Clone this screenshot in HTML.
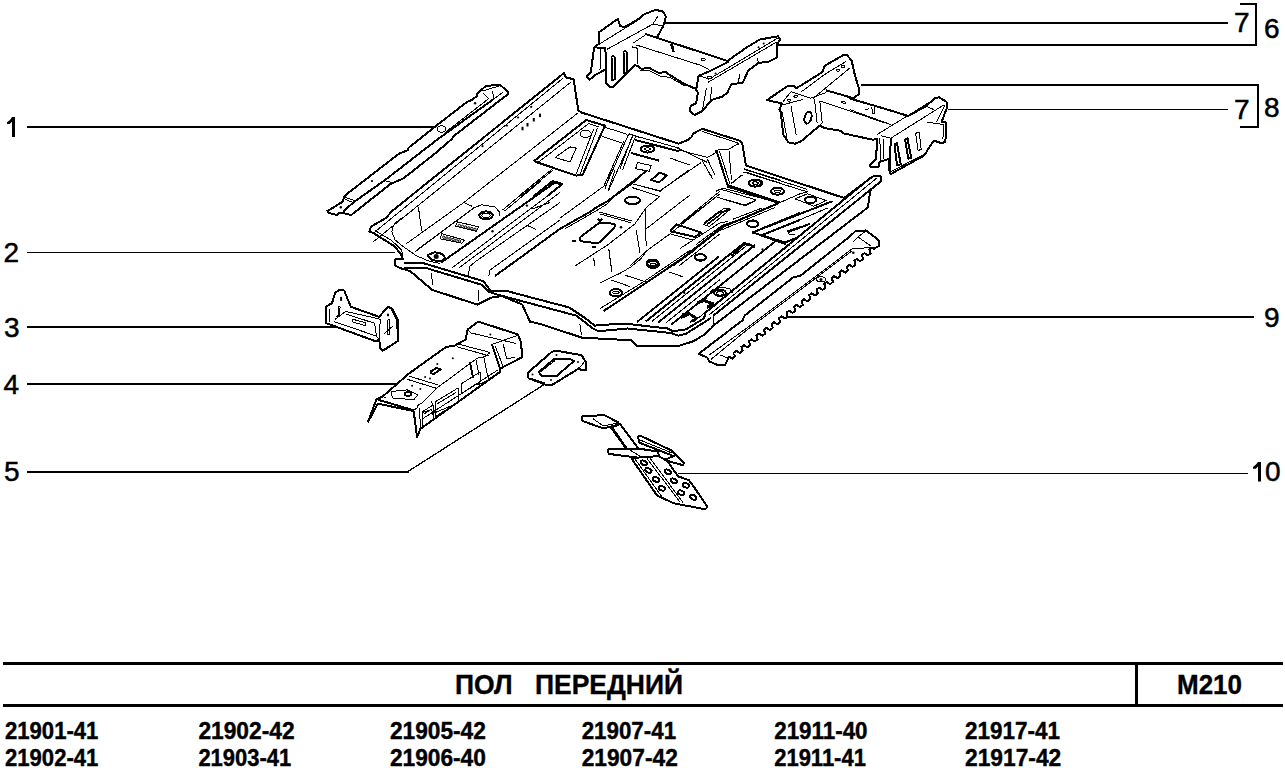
<!DOCTYPE html>
<html><head><meta charset="utf-8">
<style>
html,body{margin:0;padding:0;background:#fff;}
body{width:1285px;height:768px;overflow:hidden;}
svg{display:block;}
.lb{font-family:"Liberation Sans",sans-serif;font-size:28px;fill:#000;stroke:#000;stroke-width:0.5;}
.pn{font-family:"Liberation Sans",sans-serif;font-size:23.5px;font-weight:bold;fill:#000;stroke:#000;stroke-width:0.4;}
.tt{font-family:"Liberation Sans",sans-serif;font-size:28.5px;font-weight:bold;fill:#000;stroke:#000;stroke-width:0.4;}
.ln{stroke:#000;fill:none;}
.p{stroke:#000;stroke-width:2;fill:#fff;stroke-linejoin:round;}
.q{stroke:#000;fill:none;}
#parts path,#parts ellipse,#parts line,#parts polyline{shape-rendering:crispEdges;}
#parts g{stroke:#000;}
#parts path{stroke-linejoin:round;}
</style></head><body>
<svg width="1285" height="768" viewBox="0 0 1285 768">
<rect width="1285" height="768" fill="#fff"/>
<!-- leader lines -->
<g class="ln" shape-rendering="crispEdges">
<line x1="27" y1="127" x2="440" y2="127" stroke-width="2"/>
<line x1="27" y1="252.5" x2="395" y2="252.5" stroke-width="1"/>
<line x1="27" y1="327" x2="336" y2="327" stroke-width="2"/>
<line x1="27" y1="384" x2="400" y2="384" stroke-width="2"/>
<line x1="27" y1="472" x2="409" y2="472" stroke-width="2"/><line x1="408" y1="471.5" x2="545" y2="384" stroke-width="1.3"/>
<line x1="665" y1="23" x2="1228" y2="23" stroke-width="2"/>
<polyline points="778,45 1256,45 1256,3.5 1240,3.5" stroke-width="2"/>
<polyline points="861,85 1258,85 1258,127 1240,127" stroke-width="2"/>
<line x1="948" y1="109.5" x2="1228" y2="109.5" stroke-width="1"/>
<line x1="780" y1="317" x2="1254" y2="317" stroke-width="2"/>
<line x1="678" y1="473.5" x2="1248" y2="473.5" stroke-width="1"/>
</g>
<!-- PARTS -->
<g id="parts">
<g stroke="#000"><path d="M327.3,210.8 L330.4,209.3 L342.9,201.5 L344,196.8 L346,194.7 L399.2,153.5 L407.5,150.4 L408.5,147.8 L432.8,128.5 L437.6,124.7 L467,101.9 L471.8,100 L476.6,96.2 L476.6,94.3 L486.1,85.7 L500.3,85.2 L508.4,91.9 L508.4,93.8 L453.7,136.1 L451.8,139 L435.7,153 L403.3,178.5 L390.8,183.75 L351.25,215 L343,213 L338.75,213.4 L336.7,215 L328.3,212.9 Z" stroke-width="2" fill="#fff"/>
<path d="M493.7,99 L436.7,140 L385.6,179.6 L353.3,202.5 L342.9,211.9" stroke-width="2" fill="none"/>
<path d="M488.9,98.5 L446.1,131.8" stroke-width="1" fill="none"/>
<path d="M384.6,180.6 L392.9,182.7" stroke-width="1" fill="none"/>
<path d="M343,196.8 L354.4,200.4" stroke-width="1" fill="none"/>
<path d="M345,199.4 L353.3,202.5" stroke-width="1" fill="none"/>
<path d="M483.2,93.3 L488.9,99" stroke-width="1" fill="none"/>
<path d="M492.7,91.4 L493.7,99" stroke-width="1" fill="none"/>
<path d="M482.3,91 L499,86" stroke-width="1" fill="none"/>
<path d="M493.7,99 L502.7,92.4" stroke-width="1" fill="none"/>
<ellipse cx="441.4" cy="129" rx="4.2" ry="3.2" stroke-width="1" fill="none" transform="rotate(0 441.4 129)"/>
<circle cx="475.1" cy="103.3" r="1.2" fill="#000" stroke="none"/>
<circle cx="372" cy="181.1" r="1.1" fill="#000" stroke="none"/>
<circle cx="340.8" cy="207.2" r="1.2" fill="#000" stroke="none"/></g>
<g id="floor">
<!-- outer silhouette -->
<path class="p" fill="#fff" stroke-width="2" d="M370.9,226.6 L385.8,218.1 L392.3,210.9 L396.2,207.7 L563.9,73.1 L565.9,77.4 L573.7,79.3 L578.3,110.6 L581.5,112.5 L678.5,143.7 L687.6,140 L691.3,137.3 L693.1,133.7 L702.2,128.8 L740.5,141 L742.3,143.7 L746,165.6 L844.2,198 L872.8,176.5 L879.3,175.9 L881.3,177.2 L880.6,181.7 L870.9,189.5 L870.2,191.5 L867.8,207.5 L713.5,325.5 L711.4,328.1 L704.3,334.6 L693.8,341.1 L679.5,345.7 L660,346.3 L653,345.8 L636.6,345.8 L631.1,340.3 L581.9,337.6 L540,323.9 L530,321.7 L522.3,304.6 L502,296 L491.2,297.6 L477.2,304.6 L432,289.8 L410.2,271.1 L400.6,268.2 L394.7,265.3 L395.5,259.4 L403.1,259.4 L400.6,253.5 L393.8,245.8 L373.5,233.1 L369.3,231.5 Z"/>
<!-- left wall lines -->
<path class="q" d="M373.9,232.7 L563.3,78 M373,242 L571.1,81.9 M492.5,180 L577.6,113.2 M418.4,207 L421.6,230.5"/>
<!-- front flange -->
<path class="q" stroke-width="2" d="M404,263.3 L422.7,263 L483.4,281.2 L491.2,291.4 L505.2,290.6 L569.2,307.5 L585.6,318.4 L594.7,325.7 L600.2,324.8 L627.5,323.9 L667.6,328.5 L673.1,331.2 L685.8,329.4 L704,318.4 L706,311"/>
<path class="q" stroke-width="2" d="M404,268 L426,268 L481.8,284.8 L488.6,291.5 L495.4,294.1 L576.5,315.7 L592.9,328.5 L598.3,331.2 L627.5,328.5 L671.2,333 L678.5,335.7 L685.8,333.9 L711,318"/>
<!-- right sill -->
<path class="q" stroke-width="2" d="M872.5,176.3 L705,313 M880.6,181.7 L713,316"/>
<path class="q" d="M877.5,177.5 L709,315"/>
<path class="q" d="M401.6,217.8 L396,222.5 L393.2,225.6 L391.9,232 L395.1,239.9 L403,246.4 L416,255.5 L427.7,260.7 L440,263.5"/>
<path class="q" d="M375,230.5 L392,240.8 L401,249.5 L403,255"/>
<path class="q" d="M431.2,272.7 L432.8,285.1 M478.7,289.8 L478.7,300.7 M579.9,324 L581.4,335 M713.9,317.2 L713.4,324.7"/>
</g>

<g class="ci" stroke="#000"><circle cx="482.5" cy="146.2" r="1.1" fill="#000" stroke="none"/>
<circle cx="506.9" cy="125.6" r="1.1" fill="#000" stroke="none"/>
<circle cx="518.1" cy="117.5" r="1.1" fill="#000" stroke="none"/>
<circle cx="531.2" cy="106.9" r="1.1" fill="#000" stroke="none"/>
<rect x="521.5" y="126.80000000000001" width="2" height="3.5" fill="#000" stroke="none"/>
<rect x="526.5" y="123.0" width="2" height="3.5" fill="#000" stroke="none"/>
<rect x="532.8" y="118.0" width="2" height="3.5" fill="#000" stroke="none"/>
<rect x="539.0" y="113.6" width="2" height="3.5" fill="#000" stroke="none"/>
<path d="M533.8,161.2 L586.2,120.0 L605.0,125.6 L582.5,175.0 L576.2,175.6 L533.8,161.2" stroke-width="2" fill="none"/>
<path d="M538.8,161.9 L588.8,123.5 L598.8,126.9" stroke-width="1" fill="none"/>
<path d="M593.8,128.8 L576.2,173.8" stroke-width="1" fill="none"/>
<path d="M597.5,128.1 L580.0,174.4" stroke-width="1" fill="none"/>
<ellipse cx="585.6" cy="133.8" rx="5.6" ry="3.5" stroke-width="1" fill="none" transform="rotate(0 585.6 133.8)"/>
<path d="M555.0,157.5 L570.0,146.9 L576.2,148.1 L570.0,161.9 Z" stroke-width="1" fill="none"/>
<path d="M603.8,126.9 L627.5,134.4" stroke-width="1" fill="none"/>
<path d="M601.9,136.2 L622.5,143.1" stroke-width="1" fill="none"/>
<path d="M628.8,133.8 L605.0,187.5" stroke-width="1" fill="none"/>
<path d="M633.1,135.6 L608.8,190.0" stroke-width="1" fill="none"/>
<path d="M623.8,141.2 L603.8,186.2" stroke-width="1" fill="none"/>
<path d="M628.8,133.8 L640.0,137.5" stroke-width="1" fill="none"/>
<path d="M518.8,196.0 L552.5,168.8" stroke-width="1" fill="none"/>
<path d="M521.2,196.0 L553.1,170.0" stroke-width="1" fill="none"/>
<path d="M533.8,196.0 L552.5,181.2 L562.5,183.8 L547.5,196.0" stroke-width="2" fill="none"/>
<path d="M560.0,228.8 L591.2,211.2 L596.2,207.5 L607.5,201.2 L635.0,180.0 L647.5,170.0" stroke-width="2" fill="none"/>
<path d="M560.0,218.1 L603.8,186.2" stroke-width="1" fill="none"/>
<path d="M565.0,228.8 L597.5,210.0 L607.5,203.8 L615.0,196.2 L633.8,182.5 L646.2,171.2" stroke-width="1" fill="none"/>
<path d="M605.0,188.8 L611.2,170.0" stroke-width="1" fill="none"/>
<path d="M608.1,190.6 L615.0,170.0" stroke-width="1" fill="none"/>
<path d="M603,222.8 L612,223.6 Q616.5,224 614,228 L601,241 Q598.5,243.5 595,243 L583,241.5 Q578,241 580.5,237 L596.5,224.8 Q599,222.6 603,222.8 Z" fill="none" stroke-width="2"/>
<circle cx="621" cy="227.3" r="1.3" fill="#000" stroke="none"/>
<path d="M572,240.5 L576,241.2 M592,247 L596,246.5 M598,218.5 L600,221.5 L602,218.5" stroke-width="2" fill="none"/>
<path d="M598.8,211.9 L632.5,221.2" stroke-width="1" fill="none"/>
<path d="M600.0,214.0 L631.2,222.8" stroke-width="1" fill="none"/>
<path d="M575.0,266.0 L607.5,245.0 L635.0,223.8 L646.2,207.5 L660.0,196.2" stroke-width="1" fill="none"/>
<path d="M636.2,230.0 L640.0,252.5" stroke-width="1" fill="none"/>
<path d="M645.0,208.8 L646.2,246.2" stroke-width="1" fill="none"/>
<path d="M608.8,248.8 L611.2,266.0" stroke-width="1" fill="none"/>
<path d="M593.8,257.5 L594.4,266.0" stroke-width="1" fill="none"/>
<path d="M646.2,228.8 L690.0,195.0" stroke-width="1" fill="none"/>
<path d="M660.0,191.2 L688.8,170.0" stroke-width="1" fill="none"/>
<path d="M630.0,266.0 L646.2,251.2 L670.0,233.8 L720.0,193.8" stroke-width="1" fill="none"/>
<path d="M670.0,230.6 L676.9,224.4 L701.2,232.5 L695.0,236.9 L670.0,231.2" stroke-width="2" fill="none"/>
<path d="M670.0,233.8 L692.5,240.0" stroke-width="1" fill="none"/>
<ellipse cx="700.2" cy="257.2" rx="5.5" ry="3" stroke-width="2" fill="none" transform="rotate(0 700.2 257.2)"/>
<ellipse cx="652.5" cy="263.1" rx="6" ry="3.5" stroke-width="2" fill="none" transform="rotate(0 652.5 263.1)"/>
<path d="M651.2,180.0 L660.0,172.5 L666.9,175.6 L658.8,182.5 Z" stroke-width="2" fill="none"/>
<path d="M632.5,183.8 L660.0,191.2" stroke-width="1" fill="none"/>
<path d="M631.9,187.5 L658.8,196.2" stroke-width="1" fill="none"/>
<ellipse cx="632.5" cy="200.4" rx="7.5" ry="3.8" stroke-width="2" fill="none" transform="rotate(0 632.5 200.4)"/>
<path d="M720.0,191.2 L680.0,223.8" stroke-width="1" fill="none"/>
<path d="M703.8,223.8 L720.0,211.2" stroke-width="2" fill="none"/>
<path d="M706.2,225.6 L720.0,215.0" stroke-width="1" fill="none"/>
<path d="M672.5,266.0 L720.0,228.8" stroke-width="2" fill="none"/>
<path d="M678.8,266.0 L720.0,233.8" stroke-width="1" fill="none"/>
<path d="M707.5,170.0 L712.5,177.5" stroke-width="1" fill="none"/>
<path d="M702.5,131.5 L737.5,142.8 L739.0,145.2" stroke-width="1" fill="none"/>
<path d="M678.8,150.0 L707.5,157.5 L715.0,153.1 L716.2,150.2 L728.8,149.0 L738.1,144.0" stroke-width="1" fill="none"/>
<path d="M677.5,148.1 L701.2,159.4 L707.5,162.5" stroke-width="1" fill="none"/>
<path d="M701.2,158.8 L712.5,178.8" stroke-width="1" fill="none"/>
<path d="M707.5,159.4 L715.0,175.0" stroke-width="1" fill="none"/>
<path d="M716.2,150.0 L727.5,185.0" stroke-width="2" fill="none"/>
<path d="M719.4,151.2 L730.0,183.8" stroke-width="1" fill="none"/>
<path d="M729.0,151.2 L731.5,180.0" stroke-width="1" fill="none"/>
<path d="M701.2,162.5 L661.2,190.0" stroke-width="1" fill="none"/>
<path d="M670.0,158.1 L690.0,165.0" stroke-width="1" fill="none"/>
<path d="M743.8,168.8 L780.0,180.0" stroke-width="1" fill="none"/>
<path d="M745.0,171.9 L780.0,183.1" stroke-width="1" fill="none"/>
<path d="M727.5,185.0 L780.0,202.5" stroke-width="2" fill="none"/>
<path d="M731.2,183.1 L742.5,175.0" stroke-width="1" fill="none"/>
<ellipse cx="755.0" cy="183.1" rx="6.5" ry="3.5" stroke-width="2" fill="none" transform="rotate(0 755.0 183.1)"/>
<ellipse cx="755.0" cy="183.1" rx="3" ry="1.2" stroke-width="1" fill="none" transform="rotate(0 755.0 183.1)"/>
<ellipse cx="647.5" cy="149.0" rx="6.5" ry="3.5" stroke-width="2" fill="none" transform="rotate(0 647.5 149.0)"/>
<ellipse cx="647.5" cy="149.0" rx="3" ry="1.2" stroke-width="1" fill="none" transform="rotate(0 647.5 149.0)"/>
<path d="M716.2,191.2 L722.5,188.1 L758.8,197.5" stroke-width="1" fill="none"/>
<path d="M630.0,134.4 L678.8,148.1" stroke-width="1" fill="none"/>
<path d="M635.0,140.0 L678.8,151.2" stroke-width="2" fill="none"/>
<path d="M631.2,153.1 L658.8,160.6" stroke-width="2" fill="none"/>
<path d="M620.0,168.8 L632.5,135.6" stroke-width="1" fill="none"/>
<path d="M622.5,170.0 L635.6,136.2" stroke-width="1" fill="none"/>
<path d="M637.5,162.5 L651.2,165.6 L649.4,171.2 L635.6,168.8 L637.5,162.5" stroke-width="1" fill="none"/>
<path d="M632.5,183.8 L661.2,191.2" stroke-width="1" fill="none"/>
<path d="M743.1,171.9 L807.5,191.9" stroke-width="1" fill="none"/>
<path d="M744.4,169.4 L807.5,189.4" stroke-width="1" fill="none"/>
<path d="M727.5,186.5 L778.8,203.1" stroke-width="2" fill="none"/>
<path d="M731.2,183.8 L741.9,175.0" stroke-width="1" fill="none"/>
<path d="M778.8,203.1 L800.0,193.8 L807.5,191.9" stroke-width="1" fill="none"/>
<ellipse cx="755.6" cy="183.1" rx="6.5" ry="3.5" stroke-width="2" fill="none" transform="rotate(0 755.6 183.1)"/>
<ellipse cx="755.6" cy="183.1" rx="3" ry="1.2" stroke-width="1" fill="none" transform="rotate(0 755.6 183.1)"/>
<ellipse cx="777.5" cy="191.2" rx="6.5" ry="3.5" stroke-width="2" fill="none" transform="rotate(0 777.5 191.2)"/>
<ellipse cx="777.5" cy="191.2" rx="3" ry="1.2" stroke-width="1" fill="none" transform="rotate(0 777.5 191.2)"/>
<ellipse cx="810.6" cy="199.8" rx="5.5" ry="3.2" stroke-width="2" fill="none" transform="rotate(0 810.6 199.8)"/>
<path d="M795.0,198.8 L807.5,193.8 L826.2,200.6 L813.8,206.2 L795.0,198.8" stroke-width="1" fill="none"/>
<path d="M832.5,201.2 L752.5,232.5" stroke-width="2" fill="none"/>
<path d="M827.5,208.1 L763.8,235.0" stroke-width="1" fill="none"/>
<path d="M752.5,232.5 L785.0,242.5 L797.5,237.5" stroke-width="2" fill="none"/>
<path d="M787.5,232.2 L810.0,223.8" stroke-width="2" fill="none"/>
<path d="M788.1,233.8 L795.0,235.0" stroke-width="1" fill="none"/>
<path d="M720.0,189.0 L756.2,200.0" stroke-width="1" fill="none"/>
<path d="M720.0,198.1 L745.0,205.0 L756.2,200.0" stroke-width="1" fill="none"/>
<path d="M720.0,228.1 L778.8,203.1" stroke-width="2" fill="none"/>
<path d="M720.0,230.6 L775.0,207.5" stroke-width="1" fill="none"/>
<path d="M720.0,213.1 L730.0,209.0" stroke-width="2" fill="none"/>
<ellipse cx="752.5" cy="223.8" rx="5.5" ry="3.2" stroke-width="2" fill="none" transform="rotate(0 752.5 223.8)"/>
<path d="M731.2,256.0 L745.0,243.8 L753.8,246.2 L741.2,256.0" stroke-width="2" fill="none"/>
<path d="M757.5,256.0 L773.8,242.5" stroke-width="1" fill="none"/>
<path d="M795.0,240.0 L842.5,201.2" stroke-width="1" fill="none"/>
<path d="M608.9,250.0 L611.7,271.6" stroke-width="1" fill="none"/>
<path d="M600.0,282.8 L620.6,273.0 L630.9,266.9 L640.3,259.4 L646.9,250.9" stroke-width="1" fill="none"/>
<ellipse cx="653.0" cy="264.5" rx="6" ry="3.4" stroke-width="2" fill="none" transform="rotate(0 653.0 264.5)"/>
<ellipse cx="653.0" cy="264.2" rx="3" ry="1.2" stroke-width="1" fill="none" transform="rotate(0 653.0 264.2)"/>
<ellipse cx="615.9" cy="292.7" rx="6.3" ry="3.6" stroke-width="2" fill="none" transform="rotate(0 615.9 292.7)"/>
<ellipse cx="615.9" cy="292.4" rx="3.2" ry="1.3" stroke-width="1" fill="none" transform="rotate(0 615.9 292.4)"/>
<ellipse cx="700.3" cy="257.5" rx="5.6" ry="3.2" stroke-width="2" fill="none" transform="rotate(0 700.3 257.5)"/>
<path d="M625.3,275.3 L645.9,281.9" stroke-width="1" fill="none"/>
<path d="M611.2,280.0 L630.0,286.6" stroke-width="1" fill="none"/>
<path d="M669.4,272.0 L682.5,276.7" stroke-width="1" fill="none"/>
<path d="M603.7,310.9 L646.9,282.3 L694.7,250.0" stroke-width="2" fill="none"/>
<path d="M600.0,308.6 L645.0,280.9 L690.5,250.0" stroke-width="1" fill="none"/>
<circle cx="684.4" cy="293.1" r="1.1" fill="#000" stroke="none"/>
<path d="M697.5,302.5 L703.1,299.7 L713.4,303.4 L707.8,306.2" stroke-width="2" fill="none"/>
<path d="M681.6,314.7 L689.1,312.8 L693.7,317.5" stroke-width="2" fill="none"/>
<path d="M680.9,223.7 L716.6,196.5" stroke-width="1" fill="none"/>
<path d="M703.4,224.6 L724.1,208.2 L730.6,209.1 L709.5,226.5 L703.4,224.6" stroke-width="1" fill="none"/>
<path d="M707.2,224.1 L725.9,210.1" stroke-width="1" fill="none"/>
<path d="M716.6,196.9 L741.9,204.9 L745.6,205.4 L755.0,200.7" stroke-width="1" fill="none"/>
<path d="M695.9,244.7 L721.2,226.0" stroke-width="1" fill="none"/>
<path d="M721.2,226.0 L736.2,221.3 L777.5,203.5" stroke-width="2" fill="none"/>
<path d="M680.0,248.5 L719.4,223.2 L727.8,221.3" stroke-width="1" fill="none"/>
<path d="M732.5,219.4 L761.6,208.2" stroke-width="1" fill="none"/>
<path d="M680.0,260.7 L723.1,226.9" stroke-width="2" fill="none"/>
<ellipse cx="752.7" cy="223.7" rx="5.6" ry="3.3" stroke-width="2" fill="none" transform="rotate(0 752.7 223.7)"/>
<path d="M752.2,232.1 L800.0,212.4" stroke-width="1" fill="none"/>
<path d="M752.2,232.1 L785.9,244.3" stroke-width="2" fill="none"/>
<path d="M762.5,234.9 L800.0,219.9" stroke-width="2" fill="none"/>
<path d="M786.9,231.6 L800.0,227.4" stroke-width="2" fill="none"/>
<ellipse cx="700.6" cy="257.4" rx="5.6" ry="3.1" stroke-width="2" fill="none" transform="rotate(0 700.6 257.4)"/>
<circle cx="762.5" cy="249.4" r="1.1" fill="#000" stroke="none"/>
<path d="M637,322.0 L719,256.4" stroke-width="2" fill="none"/>
<path d="M646,321.4 L744,243.0" stroke-width="2" fill="none"/>
<path d="M652,321.3 L748,244.5" stroke-width="1" fill="none"/>
<path d="M658,322.6 L755,245.0" stroke-width="2" fill="none"/>
<path d="M744,242.9 L749.4,244.3 L755,247.4" stroke-width="2" fill="none"/>
<path d="M666,322.7 L720,279.5" stroke-width="1" fill="none"/>
<path d="M671,324.8 L775,241.6" stroke-width="2" fill="none"/>
<path d="M693,322.2 L790,244.6" stroke-width="1" fill="none"/>
<ellipse cx="720" cy="292.8" rx="5.8" ry="3.3" stroke-width="2" fill="none" transform="rotate(0 720 292.8)"/>
<ellipse cx="720" cy="293.3" rx="3.5" ry="1.8" stroke-width="1" fill="none" transform="rotate(0 720 293.3)"/>
<path d="M705,300 L712,290 L722,287 L730,289 L733,293" stroke-width="1" fill="none"/>
<path d="M696,304 L704,301 L713,304 L707,308" stroke-width="2" fill="none"/>
<path d="M681,318 L690,314 L697,318 L690,322" stroke-width="2" fill="none"/>
<path d="M406.2,243.8 L463.8,202.5 L492.5,180.0" stroke-width="1" fill="none"/>
<path d="M463.8,202.5 L471.9,206.2" stroke-width="1" fill="none"/>
<path d="M415.0,251.9 L473.1,208.5 L481.2,204.8 L495.0,206.9 L500.0,212.8 L499.4,215.6" stroke-width="1" fill="none"/>
<path d="M416.9,250.0 L473.8,207.8" stroke-width="1" fill="none"/>
<path d="M555.0,182.5 L441.2,262.5" stroke-width="2" fill="none"/>
<ellipse cx="486.0" cy="215.4" rx="6.8" ry="4" stroke-width="2" fill="none" transform="rotate(0 486.0 215.4)"/>
<ellipse cx="486.0" cy="215.4" rx="4.2" ry="2.2" stroke-width="1" fill="none" transform="rotate(0 486.0 215.4)"/>
<path d="M457.5,221.9 L478.8,226.9 L476.2,231.2 L455.6,226.2 Z" stroke-width="1" fill="none"/>
<path d="M441.9,233.8 L464.4,240.0 L461.9,243.1 L440.0,238.8 Z" stroke-width="1" fill="none"/>
<circle cx="459.4" cy="225.6" r="1.2" fill="none" stroke-width="1"/>
<circle cx="443.8" cy="237.2" r="1.2" fill="none" stroke-width="1"/>
<circle cx="462.5" cy="226.4" r="1.2" fill="none" stroke-width="1"/>
<circle cx="446.9" cy="238.0" r="1.2" fill="none" stroke-width="1"/>
<circle cx="465.6" cy="227.1" r="1.2" fill="none" stroke-width="1"/>
<circle cx="450.0" cy="238.8" r="1.2" fill="none" stroke-width="1"/>
<circle cx="468.8" cy="227.9" r="1.2" fill="none" stroke-width="1"/>
<circle cx="453.1" cy="239.5" r="1.2" fill="none" stroke-width="1"/>
<circle cx="471.9" cy="228.6" r="1.2" fill="none" stroke-width="1"/>
<circle cx="456.2" cy="240.2" r="1.2" fill="none" stroke-width="1"/>
<circle cx="475.0" cy="229.4" r="1.2" fill="none" stroke-width="1"/>
<circle cx="459.4" cy="241.0" r="1.2" fill="none" stroke-width="1"/>
<path d="M427.5,255.0 L435.0,252.2 L442.5,254.0 L445.2,257.8 L441.2,261.5 L431.9,260.0 L427.5,255.0" stroke-width="2" fill="none"/>
<circle cx="436.2" cy="256.5" r="2.5" fill="#000" stroke="none"/>
<path d="M502.5,210.0 L538.8,180.0" stroke-width="1" fill="none"/>
<path d="M504.4,211.2 L540.6,181.2" stroke-width="1" fill="none"/>
<path d="M550.0,182.5 L560.0,183.8" stroke-width="2" fill="none"/>
<path d="M558.8,187.5 L452.5,267.5" stroke-width="1" fill="none"/>
<path d="M560.0,192.5 L458.8,268.1" stroke-width="1" fill="none"/>
<path d="M550.0,202.5 L532.5,208.8" stroke-width="1" fill="none"/>
<path d="M560.0,220.0 L490.0,270.0 L488.8,276.0" stroke-width="1" fill="none"/>
<path d="M560.0,228.8 L495.0,276.0" stroke-width="2" fill="none"/>
<path d="M526.2,225.0 L536.2,229.4" stroke-width="1" fill="none"/>
<path d="M468.1,276.0 L470.0,266.2 L475.0,261.9 L560.0,202.5" stroke-width="1" fill="none"/>
<circle cx="492.5" cy="231.2" r="1.2" fill="#000" stroke="none"/>
<circle cx="526.9" cy="205.6" r="1.2" fill="#000" stroke="none"/></g>
<g stroke="#000"><path d="M594.2,47.3 L590.7,72.7 L586.8,76.6 L589.8,79.6 L595.6,74.7 L605.5,69.5 L606.4,83.5 L609.3,86.4 L612.2,87.4 L634.7,64.9 L638,66.2 L641.6,68.9 L648.8,67.7 L659.5,73.4 L664.9,71.6 L670.2,75.2 L684.6,84.1 L695.3,88.6 L698,92.9 L696,103.3 L690.8,105.9 L689.5,111.1 L694.7,115 L702.5,111.1 L707.7,104.6 L713,99.4 L722.1,96.8 L727.3,92.9 L731.2,84.4 L742.9,82.5 L748.1,70.8 L758.5,63 L768.9,61.65 L776.7,57.7 L776.7,44.7 L780,39.5 L778,36.3 L759.8,39.5 L746.8,47.3 L727.5,60.9 L656.8,37.8 L663.3,26 L665.9,16.9 L663.3,11.7 L655.5,9.8 L642.5,15 L639.9,18.2 L624.3,27.3 L620.3,26 L617.7,18.9 L598.5,32.7 L599.5,43.4 Z" stroke-width="2" fill="#fff"/>
<path d="M594.2,47.3 L605.4,48.3 L606.4,83.5" stroke-width="2" fill="none"/>
<path d="M600.5,49.3 L600,69.8" stroke-width="1" fill="none"/>
<path d="M596.9,45.6 L641.2,18.2" stroke-width="1" fill="none"/>
<path d="M606.7,49.5 L652.9,24.1 L663.3,26" stroke-width="1" fill="none"/>
<path d="M611.5,57 L613,55.5 L614.5,57 L615.5,79 L612,80 L611.5,57" stroke-width="2" fill="none"/>
<path d="M623.5,52 L625,50.5 L626.5,52 L627.5,72 L624,73 L623.5,52" stroke-width="2" fill="none"/>
<path d="M632.1,46.9 L637.3,48.2 L637.3,63.8" stroke-width="1" fill="none"/>
<path d="M633.4,43 L645.1,35.1" stroke-width="1" fill="none"/>
<path d="M645.2,34 L656.8,37.8" stroke-width="2" fill="none"/>
<path d="M640,70.5 L648,70 L660,76 L670,77.5 L685,86" stroke-width="1" fill="none"/>
<path d="M636,44.9 L700,65.1 L709,69.5" stroke-width="1" fill="none"/>
<path d="M671.1,44.3 L673.7,52.1" stroke-width="2" fill="none"/>
<path d="M652.9,24.1 L658,16" stroke-width="1" fill="none"/>
<path d="M699.9,76 L709,79.2 L778,38" stroke-width="1" fill="none"/>
<path d="M707.7,82.5 L776.7,42" stroke-width="1" fill="none"/>
<path d="M706.5,87.7 L702.5,109.8" stroke-width="1" fill="none"/>
<path d="M712,87 L710,101" stroke-width="1" fill="none"/>
<path d="M740,74 L738,83" stroke-width="1" fill="none"/>
<path d="M758.5,63 L757,58" stroke-width="1" fill="none"/>
<ellipse cx="709.7" cy="77.3" rx="2.2" ry="1.3" stroke-width="1" fill="none" transform="rotate(0 709.7 77.3)"/>
<ellipse cx="703.2" cy="59.7" rx="2.2" ry="1.3" stroke-width="1" fill="none" transform="rotate(0 703.2 59.7)"/>
<path d="M696,90.3 L698.6,76 L709,71.4 L728.6,61.65" stroke-width="2" fill="none"/>
<circle cx="715.6" cy="73.4" r="1" fill="#000" stroke="none"/>
<circle cx="758.5" cy="47.3" r="1" fill="#000" stroke="none"/>
<circle cx="763.7" cy="43.4" r="1" fill="#000" stroke="none"/>
<path d="M672.6,43.4 L673.9,51.2" stroke-width="1" fill="none"/></g>
<g stroke="#000"><path d="M767,100.1 L787.1,86.4 L793.6,85.8 L796.2,88.4 L822.3,72.1 L824.9,65.6 L843.1,55.2 L847,55.2 L851.6,60.4 L854.8,74.7 L858.7,87.7 L858.7,94.3 L853.5,98.2 L850,98.6 L877.2,106.5 L908.2,115.9 L924.2,107.3 L935.4,98 L939.1,97.4 L946.5,101.7 L947.1,107.3 L941.6,122.1 L945.3,122.1 L946.5,123.4 L945.3,141.9 L941.6,143.2 L934.1,140.7 L930.4,145.6 L924.2,155.5 L890.8,174.1 L889.6,171.6 L888.4,159.2 L879.7,161.7 L878.5,166.7 L871,167.3 L869.8,165.4 L876,159.2 L877.2,139 L874.7,139.4 L873,139.8 L843.1,133.3 L840.5,130.7 L824.9,128.1 L819.7,125.5 L801.4,141.1 L794.9,143.7 L788.4,142.4 L783.2,134.6 L780.6,111.2 L779.3,109.9 L781.9,103.4 Z" stroke-width="2" fill="#fff"/>
<path d="M783.2,101.4 L791.0,91.7 L810.6,98.2 L824.9,93.0 L827.5,90.3" stroke-width="1" fill="none"/>
<path d="M783.2,104.7 L802.7,99.5" stroke-width="1" fill="none"/>
<path d="M801.4,91.7 L826.2,73.4 L845.7,61.7" stroke-width="1" fill="none"/>
<path d="M813.2,98.2 L849.6,68.2" stroke-width="1" fill="none"/>
<path d="M791.0,106.0 L796.2,134.6" stroke-width="1" fill="none"/>
<path d="M781.9,111.2 L787.1,138.5" stroke-width="1" fill="none"/>
<ellipse cx="808.0" cy="117.7" rx="3.4" ry="6" stroke-width="2" fill="none" transform="rotate(15 808.0 117.7)"/>
<path d="M814.5,99.5 L817.1,122.9" stroke-width="1" fill="none"/>
<path d="M819.7,100.8 L822.3,122.9" stroke-width="1" fill="none"/>
<path d="M819.7,100.8 L885.0,122.9" stroke-width="1" fill="none"/>
<path d="M826.2,90.3 L853.5,98.2" stroke-width="2" fill="none"/>
<path d="M819.7,125.5 L822.3,122.9" stroke-width="1" fill="none"/>
<path d="M841.8,101.4 L845.7,102.1 L845.0,103.4 L841.8,102.7 L841.8,101.4" stroke-width="1" fill="none"/>
<path d="M871.7,107.3 L873.0,113.8 L875.0,113.8 L874.3,107.3" stroke-width="1" fill="none"/>
<path d="M865.2,109.9 L869.1,108.6" stroke-width="1" fill="none"/>
<ellipse cx="789.1" cy="100.1" rx="1.8" ry="1.1" stroke-width="1" fill="none" transform="rotate(0 789.1 100.1)"/>
<ellipse cx="795.6" cy="96.2" rx="1.8" ry="1.1" stroke-width="1" fill="none" transform="rotate(0 795.6 96.2)"/>
<ellipse cx="837.9" cy="70.2" rx="1.8" ry="1.1" stroke-width="1" fill="none" transform="rotate(0 837.9 70.2)"/>
<ellipse cx="843.1" cy="66.3" rx="1.8" ry="1.1" stroke-width="1" fill="none" transform="rotate(0 843.1 66.3)"/>
<path d="M850.0,109.7 L890.8,124.6" stroke-width="1" fill="none"/>
<path d="M880.9,135.7 L890.8,138.2 L944.0,104.8" stroke-width="1" fill="none"/>
<path d="M877.2,134.5 L935.4,98.6" stroke-width="1" fill="none"/>
<path d="M890.8,138.2 L889.6,171.6" stroke-width="2" fill="none"/>
<path d="M879.7,138.2 L880.9,160.5" stroke-width="1" fill="none"/>
<path d="M883.4,139.4 L884.0,159.2" stroke-width="1" fill="none"/>
<path d="M894.5,144.4 L897.0,143.2 L900.7,164.2 L897.0,165.4 L894.5,144.4" stroke-width="2" fill="none"/>
<path d="M905.1,139.4 L907.5,138.2 L911.2,158.0 L908.2,158.6 L905.1,139.4" stroke-width="2" fill="none"/>
<path d="M915.6,133.3 L919.3,132.0 L921.1,149.3 L918.1,150.6 L915.6,133.3" stroke-width="1" fill="none"/>
<path d="M926.7,122.1 L944.0,124.6 L942.8,139.4" stroke-width="1" fill="none"/>
<path d="M925.5,106.0 L934.1,109.7" stroke-width="1" fill="none"/>
<path d="M936.6,122.1 L945.3,104.8" stroke-width="1" fill="none"/>
<path d="M890.8,171.6 L924.2,154.3" stroke-width="1" fill="none"/></g>
<g stroke="#000"><path d="M325.5,306.9 L331.9,303.2 L335.5,292.3 L340.1,289.6 L344.2,290.5 L350.1,305.1 L351.0,306.9 L379.3,316.9 L382.9,312.4 L388.4,306.9 L392.0,308.7 L397.5,318.7 L398.4,321.5 L398.4,340.6 L382.9,350.7 L380.2,348.8 L379.3,339.7 L375.6,341.5 L373.8,340.6 L329.1,324.2 L326.4,323.3 L325.5,306.9 Z" stroke-width="2" fill="#fff"/>
<path d="M345.5,311.4 L378.4,318.7" stroke-width="1" fill="none"/>
<path d="M346.4,314.2 L374.7,323.3" stroke-width="1" fill="none"/>
<path d="M333.7,321.5 L376.5,336.1" stroke-width="1" fill="none"/>
<path d="M334.6,319.6 L345.5,311.4" stroke-width="1" fill="none"/>
<path d="M374.7,323.3 L376.5,336.1 L379.3,339.7" stroke-width="1" fill="none"/>
<path d="M378.4,318.7 L380.2,319.6 L379.3,339.7" stroke-width="1" fill="none"/>
<path d="M352.4,319.2 L366.0,322.8 L365.1,325.6 L352.4,321.9 L352.4,319.2" stroke-width="1" fill="none"/>
<path d="M329.1,308.7 L330.0,321.5" stroke-width="1" fill="none"/>
<path d="M338.2,306.9 L340.1,306.9 L339.6,315.1 L338.2,315.1 L338.2,306.9" stroke-width="1" fill="none"/>
<path d="M336.4,316.9 L339.1,315.1" stroke-width="2" fill="none"/>
<rect x="340.1" y="296.9" width="2" height="4" fill="#000" stroke="none"/>
<path d="M387.5,319.6 L389.3,319.6 L389.8,334.2 L387.9,334.2 L387.5,319.6" stroke-width="1" fill="none"/>
<path d="M383.8,334.2 L392.9,326.0" stroke-width="1" fill="none"/>
<rect x="387.0" y="313.7" width="2" height="2.5" fill="#000" stroke="none"/>
<path d="M391.1,309.6 L396.6,319.6 L397.5,339.7" stroke-width="1" fill="none"/></g>
<g stroke="#000"><path d="M368.1,421.7 L376.3,399.7 L382.8,396.4 L408.9,373.6 L446.3,346.8 L454.4,345.9 L465.8,339.4 L467.5,329.7 L477.2,322.3 L480.5,322.3 L518.0,334.5 L521.2,342.7 L522.0,357.3 L500.0,368.7 L500.0,372.0 L420.3,429.0 L417.0,437.1 L413.7,411.1 L377.9,403.7 L368.1,421.7 Z" stroke-width="2" fill="#fff"/>
<path d="M377.9,399.7 L413.7,410.3" stroke-width="2" fill="none"/>
<path d="M382.8,396.4 L386.1,398.0" stroke-width="1" fill="none"/>
<path d="M407.2,379.3 L436.5,388.3" stroke-width="1" fill="none"/>
<path d="M408.9,376.1 L438.2,385.0" stroke-width="1" fill="none"/>
<path d="M436.5,388.3 L477.2,358.2 L485.4,356.5" stroke-width="1" fill="none"/>
<path d="M417.0,405.4 L421.9,402.9 L436.5,388.3" stroke-width="1" fill="none"/>
<path d="M413.7,410.3 L417.0,407.8 L418.6,404.6" stroke-width="1" fill="none"/>
<path d="M421.9,419.2 L498.4,369.6" stroke-width="1" fill="none"/>
<path d="M421.9,427.4 L500.0,371.2" stroke-width="1" fill="none"/>
<path d="M456.1,343.5 L490.3,352.5" stroke-width="1" fill="none"/>
<path d="M456.9,346.8 L488.6,355.7" stroke-width="1" fill="none"/>
<path d="M491.9,344.3 L518.0,335.4" stroke-width="1" fill="none"/>
<path d="M491.9,344.3 L500.0,368.7" stroke-width="2" fill="none"/>
<path d="M495.2,345.9 L503.3,367.1" stroke-width="1" fill="none"/>
<path d="M503.3,344.3 L506.6,359.0 L514.7,357.3" stroke-width="1" fill="none"/>
<path d="M490.3,352.5 L483.8,357.3 L488.6,380.1 L477.2,385.0" stroke-width="1" fill="none"/>
<path d="M467.5,329.7 L470.7,332.9 L516.3,343.5" stroke-width="1" fill="none"/>
<path d="M431.6,401.3 L434.9,412.7 L454.4,404.6" stroke-width="1" fill="none"/>
<path d="M421.9,412.7 L431.6,409.4 L433.3,416.0" stroke-width="1" fill="none"/>
<path d="M430.0,372.0 L436.5,367.9 L440.6,369.6 L433.3,374.4 L430.0,372.0" stroke-width="2" fill="none"/>
<path d="M390.9,391.5 L407.2,389.9 L417.8,394.8 L413.7,399.7 L392.6,398.0 L390.9,391.5" stroke-width="1" fill="none"/>
<ellipse cx="408.0" cy="394.0" rx="3" ry="2" stroke-width="2" fill="none" transform="rotate(0 408.0 394.0)"/>
<circle cx="437.3" cy="363.9" r="1" fill="#000" stroke="none"/>
<circle cx="452.8" cy="358.2" r="1" fill="#000" stroke="none"/>
<circle cx="425.1" cy="376.9" r="1" fill="#000" stroke="none"/>
<circle cx="430.0" cy="378.5" r="1" fill="#000" stroke="none"/>
<circle cx="412.1" cy="385.8" r="1" fill="#000" stroke="none"/>
<circle cx="420.3" cy="389.1" r="1" fill="#000" stroke="none"/>
<circle cx="490.3" cy="334.5" r="1" fill="#000" stroke="none"/>
<path d="M422,412 L433,405 L433,420 L422,427 L422,412" stroke-width="1" fill="none"/>
<path d="M424,414 L431,409.5" stroke-width="1" fill="none"/>
<path d="M435,402 L458,388 L458,402 L435,417 L435,402" stroke-width="1" fill="none"/>
<path d="M437,404 L456,392.5" stroke-width="1" fill="none"/>
<path d="M461,384 L480,372 L480,382 L461,394 L461,384" stroke-width="1" fill="none"/>
<path d="M470,362 L473,378" stroke-width="2" fill="none"/>
<path d="M476,360 L479,375" stroke-width="1" fill="none"/>
<path d="M419,408 L421,430" stroke-width="1" fill="none"/></g>
<g stroke="#000"><path d="M527.8,372.8 L552,351.7 L557.5,350.9 L581.7,355.2 L585.6,361.9 L586,369.7 L580.2,369.7 L579.4,368.1 L552.8,384.5 L545,384.5 L528.6,378.3 L527.8,372.8 Z" stroke-width="2" fill="#fff"/>
<path d="M538.75,372 L554.4,358.75 L570,359.1 L573.9,361.1 L556.7,375.9 L541.9,375.9 L538.75,372" stroke-width="2" fill="none"/>
<path d="M540.5,372 L555,360.5" stroke-width="1" fill="none"/>
<path d="M530,378 L545,383" stroke-width="1" fill="none"/>
<path d="M579.4,368.1 L585,361" stroke-width="1" fill="none"/>
<circle cx="556.5" cy="355" r="1" fill="#000" stroke="none"/>
<circle cx="578" cy="362" r="1" fill="#000" stroke="none"/>
<circle cx="532.5" cy="374.5" r="1" fill="#000" stroke="none"/>
<circle cx="551" cy="380" r="1" fill="#000" stroke="none"/></g>
<g stroke="#000"><path d="M631.9,459.1 L657.3,495.8 L670.8,501.8 L673.8,503.3 L705.3,509.3 L707.5,507 L691.8,483.8 L688.8,480.1 L678.3,476.4 L673.8,470.4 L667.8,461.4 L658.8,456.1 L637.9,457.6 L631.9,459.1 Z" stroke-width="2" fill="#fff"/>
<path d="M646.9,458.4 L679.8,501.8" stroke-width="1" fill="none"/>
<path d="M650,458 L683,502.5" stroke-width="1" fill="none"/>
<path d="M635,459 L662,497" stroke-width="1" fill="none"/>
<ellipse cx="643.9" cy="462.9" rx="3.3" ry="2.1" stroke-width="2" fill="none" transform="rotate(25 643.9 462.9)"/>
<ellipse cx="648.4" cy="470.4" rx="3.3" ry="2.1" stroke-width="2" fill="none" transform="rotate(25 648.4 470.4)"/>
<ellipse cx="655.9" cy="479.4" rx="3.3" ry="2.1" stroke-width="2" fill="none" transform="rotate(25 655.9 479.4)"/>
<ellipse cx="661.8" cy="488.3" rx="3.3" ry="2.1" stroke-width="2" fill="none" transform="rotate(25 661.8 488.3)"/>
<ellipse cx="667.8" cy="471.9" rx="3.3" ry="2.1" stroke-width="2" fill="none" transform="rotate(25 667.8 471.9)"/>
<ellipse cx="673.8" cy="480.9" rx="3.3" ry="2.1" stroke-width="2" fill="none" transform="rotate(25 673.8 480.9)"/>
<ellipse cx="685.8" cy="485.3" rx="3.3" ry="2.1" stroke-width="2" fill="none" transform="rotate(25 685.8 485.3)"/>
<ellipse cx="681.3" cy="492.8" rx="3.3" ry="2.1" stroke-width="2" fill="none" transform="rotate(25 681.3 492.8)"/>
<ellipse cx="693.3" cy="497.3" rx="3.3" ry="2.1" stroke-width="2" fill="none" transform="rotate(25 693.3 497.3)"/>
<path d="M611,427.7 L633.4,458.4 L637.9,457.6 L637.9,447.9 L620,424 L611,427.7 Z" stroke-width="2" fill="#fff"/>
<path d="M613.5,428.5 L627,448" stroke-width="1" fill="none"/>
<path d="M637.9,436.7 L640.9,435.9 L672.3,450.9 L674.6,453.2 L684.3,462.9 L682.8,465.1 L666.3,460.6 L666.3,459.1 L673.8,456.1 L658.8,450.2 L639.4,442.7 L637.9,436.7 Z" stroke-width="2" fill="#fff"/>
<path d="M640,440 L672,453" stroke-width="1" fill="none"/>
<path d="M608,449.4 L608.7,453.9 L637.9,457.6 L658.8,456.1 L658.1,451.7 L639.4,448.7 L609.4,448.7 L608,449.4 Z" stroke-width="2" fill="#fff"/>
<path d="M628,449 L640,456" stroke-width="1" fill="none"/>
<path d="M581.7,416.5 L604.2,415 L618.4,422.5 L618.4,424.7 L603.4,428.4 L582.5,421 L581.7,416.5 Z" stroke-width="2" fill="#fff"/>
<path d="M593,418.7 L603.4,426 L618,423" stroke-width="1" fill="none"/></g>
<g stroke="#000"><path d="M698.75,353.75 L742.8,320.1 L744.6,315.6 L793.8,276.9 L800.2,276 L850.3,236 L855.2,231.4 L866,230.4 L879.2,240.6 L878.7,246 L873.8,248.9 L871.8,247.5 L869.4,249.3 L870.6,253.2 L867.8,255.4 L864.3,253.2 L861.9,255.0 L863.0,259.0 L860.2,261.1 L856.7,259.0 L854.4,260.8 L855.5,264.7 L852.7,266.8 L849.2,264.7 L846.9,266.5 L848.0,270.5 L845.2,272.6 L841.7,270.5 L839.3,272.3 L840.4,276.2 L837.7,278.3 L834.2,276.2 L831.8,278.0 L832.9,281.9 L830.1,284.1 L826.6,282.0 L824.3,283.8 L825.4,287.7 L822.6,289.8 L819.1,287.7 L816.7,289.5 L817.8,293.4 L815.1,295.5 L811.6,293.4 L809.2,295.2 L810.3,299.2 L807.5,301.3 L804.0,299.2 L801.7,301.0 L802.8,304.9 L800.0,307.0 L796.5,304.9 L794.1,306.7 L795.3,310.7 L792.5,312.8 L789.0,310.7 L786.6,312.5 L787.7,316.4 L784.9,318.5 L781.5,316.4 L779.1,318.2 L780.2,322.1 L777.4,324.3 L773.9,322.1 L771.6,323.9 L772.7,327.9 L769.9,330.0 L766.4,327.9 L764.0,329.7 L765.1,333.6 L762.4,335.7 L758.9,333.6 L756.5,335.4 L757.6,339.4 L754.8,341.5 L751.3,339.4 L749.0,341.2 L750.1,345.1 L747.3,347.2 L743.8,345.1 L741.4,346.9 L742.6,350.8 L739.8,353.0 L736.3,350.9 L733.9,352.7 L735.0,356.6 L732.2,358.7 L728.8,356.6 L726.9,361.25 L725,365 L717.5,365 L709.1,361.25 L707.2,357.5 L698.75,353.75 Z" stroke-width="2" fill="#fff"/>
<path d="M709,355.2 L747.5,327.5 L852,249" stroke-width="1" fill="none"/>
<path d="M711,359.4 L747.5,329.4 L852,251" stroke-width="1" fill="none"/>
<path d="M852,249 L877,247" stroke-width="1" fill="none"/>
<path d="M858,237 L871,246" stroke-width="1" fill="none"/>
<path d="M853,242 L858,237 L866,231" stroke-width="1" fill="none"/>
<ellipse cx="821.2" cy="279.4" rx="4.5" ry="2.6" stroke-width="1" fill="none" transform="rotate(0 821.2 279.4)"/>
<circle cx="821" cy="279.6" r="1.5" fill="#000" stroke="none"/>
<circle cx="853.3" cy="252.8" r="1.3" fill="#000" stroke="none"/>
<path d="M720,355 L728,358" stroke-width="1" fill="none"/></g>

</g>
<!-- labels -->
<path d="M12,117 L15,117 L15,137 L12,137 L12,121.8 L9.6,124 L7,124 L7,122.3 L10,120 Z" fill="#000"/>
<text class="lb" x="3.5" y="262">2</text>
<text class="lb" x="4" y="337">3</text>
<text class="lb" x="3.5" y="393.5">4</text>
<text class="lb" x="4" y="481">5</text>
<text class="lb" x="1234" y="32.3">7</text>
<text class="lb" x="1264" y="37.5">6</text>
<text class="lb" x="1234" y="118.7">7</text>
<text class="lb" x="1264" y="116.5">8</text>
<text class="lb" x="1264" y="326.5">9</text>
<path d="M1258,462 L1261,462 L1261,481.5 L1258,481.5 L1258,466.5 L1255.8,468.8 L1253,468.8 L1253,467 L1256,464.6 Z" fill="#000"/><text class="lb" x="1265" y="481.3">0</text>
<!-- table -->
<rect x="3" y="662" width="1280" height="3" fill="#000"/>
<rect x="3" y="704" width="1280" height="3" fill="#000"/>
<rect x="1135" y="662" width="3" height="45" fill="#000"/>
<text class="tt" x="455" y="693.9" textLength="57.5" lengthAdjust="spacingAndGlyphs">ПОЛ</text>
<text class="tt" x="535" y="693.9" textLength="148" lengthAdjust="spacingAndGlyphs">ПЕРЕДНИЙ</text>
<text class="tt" x="1177" y="693.6" textLength="65" lengthAdjust="spacingAndGlyphs">M210</text>
<g class="pn">
<text x="5.0" y="738.8" textLength="93.4" lengthAdjust="spacingAndGlyphs">21901-41</text>
<text x="198.4" y="738.8" textLength="96.2" lengthAdjust="spacingAndGlyphs">21902-42</text>
<text x="389.9" y="738.8" textLength="96.0" lengthAdjust="spacingAndGlyphs">21905-42</text>
<text x="581.7" y="738.8" textLength="94.4" lengthAdjust="spacingAndGlyphs">21907-41</text>
<text x="774.2" y="738.8" textLength="93.4" lengthAdjust="spacingAndGlyphs">21911-40</text>
<text x="965.0" y="738.8" textLength="94.9" lengthAdjust="spacingAndGlyphs">21917-41</text>
<text x="5.0" y="765.9" textLength="93.4" lengthAdjust="spacingAndGlyphs">21902-41</text>
<text x="198.4" y="765.9" textLength="92.8" lengthAdjust="spacingAndGlyphs">21903-41</text>
<text x="389.9" y="765.9" textLength="96.0" lengthAdjust="spacingAndGlyphs">21906-40</text>
<text x="581.7" y="765.9" textLength="96.1" lengthAdjust="spacingAndGlyphs">21907-42</text>
<text x="774.2" y="765.9" textLength="91.7" lengthAdjust="spacingAndGlyphs">21911-41</text>
<text x="965.0" y="765.9" textLength="96.3" lengthAdjust="spacingAndGlyphs">21917-42</text>
</g>
</svg>
</body></html>
